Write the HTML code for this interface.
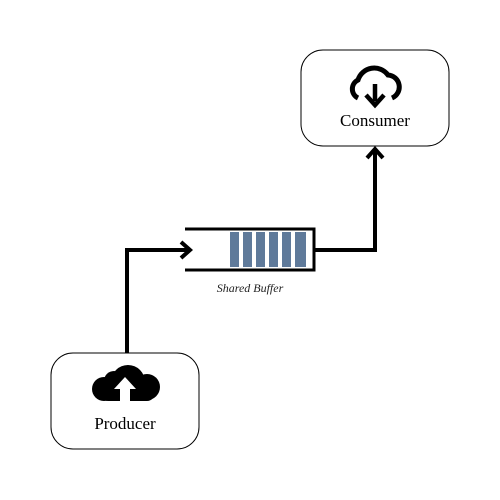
<!DOCTYPE html>
<html><head><style>body{margin:0;background:#fff}svg{display:block}text{font-family:"Liberation Serif","DejaVu Serif",serif}</style></head><body>
<svg width="500" height="500" viewBox="0 0 500 500" xmlns="http://www.w3.org/2000/svg">
<rect x="51" y="353" width="148" height="96" rx="22" fill="#fff" stroke="#000" stroke-width="1"/>
<rect x="301" y="50" width="148" height="96" rx="22" fill="#fff" stroke="#000" stroke-width="1"/>
<!-- producer cloud -->
<g fill="#000">
<circle cx="128" cy="382" r="17"/><circle cx="147" cy="387" r="13"/><circle cx="104" cy="389" r="12"/><circle cx="114" cy="381" r="10"/>
<rect x="100" y="385" width="55" height="16" rx="8"/>
</g>
<path d="M125 377 L114 389 L120 389 L120 402 L130 402 L130 389 L136 389 Z" fill="#fff"/>
<!-- consumer cloud outline -->
<path d="M358 98 A10 10 0 0 1 358 80 A17 17 0 0 1 388 75 A12 12 0 0 1 392 98" fill="none" stroke="#000" stroke-width="5"/>
<line x1="375" y1="84" x2="375" y2="101" stroke="#000" stroke-width="4.5"/>
<path d="M366 95 L375 105 L384 95" fill="none" stroke="#000" stroke-width="4.5"/>
<text x="125" y="429" font-size="17" text-anchor="middle">Producer</text>
<text x="375" y="126" font-size="17" text-anchor="middle">Consumer</text>
<!-- buffer -->
<path d="M185 229 L314 229 L314 270 L185 270" fill="none" stroke="#000" stroke-width="3"/>
<g fill="#5f7a9a">
<rect x="230" y="232" width="9" height="35"/><rect x="243" y="232" width="9" height="35"/><rect x="256" y="232" width="9" height="35"/><rect x="269" y="232" width="9" height="35"/><rect x="282" y="232" width="9" height="35"/><rect x="295" y="232" width="11" height="35"/>
</g>
<text x="250" y="292" font-size="12" font-style="italic" text-anchor="middle" fill="#222">Shared Buffer</text>
<!-- connectors -->
<path d="M127 353 L127 250 L189 250" fill="none" stroke="#000" stroke-width="4"/>
<path d="M181 242 L190 250 L181 258" fill="none" stroke="#000" stroke-width="4"/>
<path d="M314 250 L375 250 L375 150" fill="none" stroke="#000" stroke-width="4"/>
<path d="M367 158 L375 149 L383 158" fill="none" stroke="#000" stroke-width="4"/>
</svg>
</body></html>
